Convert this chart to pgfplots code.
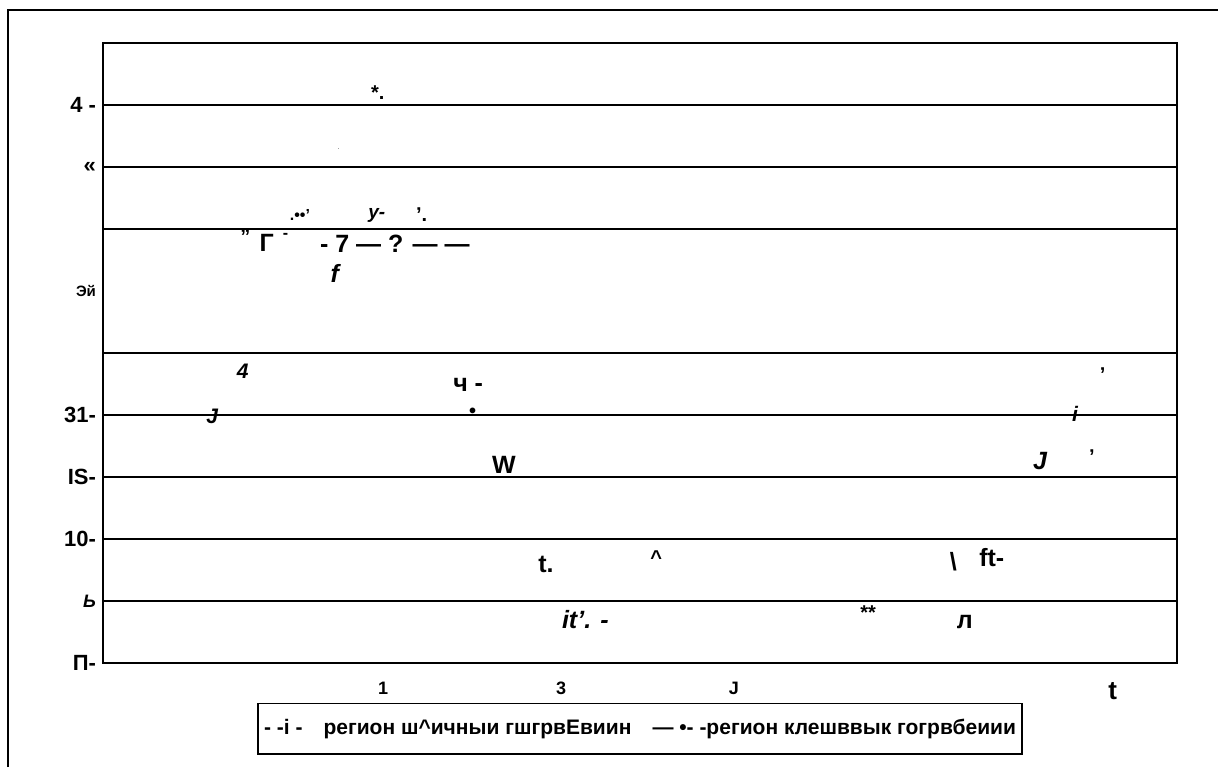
\documentclass[border=0pt]{standalone}
\usepackage{pgfplots}
\pgfplotsset{compat=1.18}
\usepackage{fontspec}
\setmainfont{Liberation Sans}

% text fragments as they appear in the scan, grouped by size and shape
\pgfplotsset{
  frag/.style={draw=none, mark=none, forget plot, nodes near coords,
    point meta=explicit symbolic,
    every node near coord/.append style={anchor=center, inner sep=0pt, font=#1}},
}

\begin{document}
\begin{tikzpicture}
\useasboundingbox (0,0) rectangle (609pt,383.5pt);
\draw[line width=1pt] (4pt,0) -- (4pt,378.5pt) -- (609pt,378.5pt);
\begin{axis}[
  at={(51.5pt,52pt)}, anchor=south west,
  scale only axis, width=537pt, height=310pt,
  xmin=0, xmax=12, ymin=0, ymax=50,
  xtick={3.13,5.12,7.05,11.28},
  xticklabels={1,3,J,{\fontsize{13}{15}\selectfont t}},
  xticklabel style={yshift=-6pt, font=\fontsize{9}{11}\selectfont\bfseries},
  ytick={0,5,10,15,20,25,35,40,45},
  yticklabels={П-,{\fontsize{9}{11}\selectfont\itshape Ь\hspace{7pt}},10-,IS-,31-,{},{},{«\hspace{8.5pt}},4 -},
  extra y ticks={30},
  extra y tick labels={{\fontsize{7.5}{9}\selectfont Эй\hspace{5pt}}},
  extra y tick style={grid=none},
  yticklabel style={font=\fontsize{11}{13}\selectfont\bfseries},
  ymajorgrids,
  major grid style={black, line width=0.8pt},
  axis line style={line width=0.8pt},
  major tick length=0pt,
  legend image code/.code={},
  legend style={at={(0.5,-0.106)}, anchor=center, draw=black, line width=0.8pt,
    inner xsep=1pt, inner ysep=6pt, font=\fontsize{10.5}{12}\selectfont\bfseries},
  legend cell align=left,
]
% medium, upright
\addplot[frag={\fontsize{10}{12}\selectfont\bfseries}] coordinates {
  (3.07,45.97) [*.]
  (3.56,36.13) ['.]
  (1.59,34.35) ["]
  (4.13,20.16) [•]
  (11.17,23.23) [']
  (11.05,16.61) [']
  (8.55,4.03) [**]
  (6.18,8.47) [\textasciicircum]
};
% large, upright
\addplot[frag={\fontsize{12.5}{15}\selectfont\bfseries}] coordinates {
  (1.83,33.87) [Г]
  (3.26,33.79) [- 7 — ? — —]
  (4.08,22.42) [ч -]
  (4.48,15.97) [W]
  (4.95,7.98) [t.]
  (9.50,8.15) [\textbackslash]
  (9.93,8.47) [ft-]
  (9.63,3.31) [л]
};
% small, upright
\addplot[frag={\fontsize{8}{10}\selectfont\bfseries}] coordinates {
  (2.20,36.13) [.••']
  (2.04,34.44) [-]
};
\addplot[frag={\fontsize{3}{4}\selectfont}] coordinates {
  (2.63,41.4) [.]
};
% italic
\addplot[frag={\fontsize{10.5}{12}\selectfont\bfseries\itshape}] coordinates {
  (1.56,23.55) [4]
  (1.22,19.92) [J]
  (10.86,20.08) [i]
};
\addplot[frag={\fontsize{9.5}{11}\selectfont\bfseries\itshape}] coordinates {
  (3.06,36.13) [y-]
};
\addplot[frag={\fontsize{12.5}{15}\selectfont\bfseries\itshape}] coordinates {
  (2.59,31.45) [f]
  (5.39,3.47) [it'. -]
  (10.47,16.29) [J]
};
% carrier for the legend line
\addplot[draw=none, mark=none] coordinates {(0,-10)};
\addlegendentry{- -i -\quad регион ш\textasciicircum ичныи гшгрвЕвиин\quad — •- -регион клешввык гогрвбеиии}
\end{axis}
\end{tikzpicture}
\end{document}
